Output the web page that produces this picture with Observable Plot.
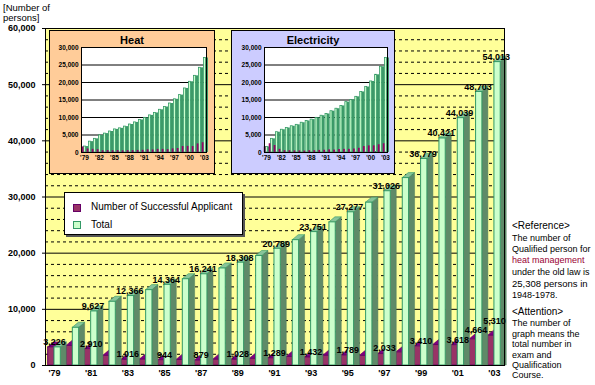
<!DOCTYPE html>
<html><head><meta charset="utf-8">
<script src="https://cdn.jsdelivr.net/npm/d3@7"></script>
<script src="https://cdn.jsdelivr.net/npm/@observablehq/plot@0.6"></script>
<style>
body{margin:0;background:#fff;font-family:Arial,"Liberation Sans",sans-serif;}
#wrap{position:relative;width:595px;height:385px;overflow:hidden;background:#fff;}
#wrap svg{position:absolute;left:0;top:0;overflow:visible;}
.panel{position:absolute;border:1px solid #000;}
.panel svg{position:absolute;left:0;top:0;}
.ptitle{position:absolute;left:0;right:0;top:3px;text-align:center;font:bold 11px Arial,"Liberation Sans",sans-serif;color:#000;}
.legend{position:absolute;left:64px;top:192px;width:177px;height:41px;background:#fff;border:1px solid #000;box-shadow:2px 2px 0 #555;font:10px Arial,"Liberation Sans",sans-serif;color:#000;}
.legend .sw{position:absolute;left:8px;width:6px;height:6px;}
.legend .lb{position:absolute;left:26px;white-space:nowrap;}
.note{position:absolute;left:512px;font:9px Arial,"Liberation Sans",sans-serif;color:#000;white-space:nowrap;}
.yl{position:absolute;left:3px;font:9.5px Arial,"Liberation Sans",sans-serif;color:#000;}
</style></head><body><div id="wrap"></div>
<script>
// ---- main chart data ----
const years = [1979,1980,1981,1982,1983,1984,1985,1986,1987,1988,1989,1990,1991,1992,1993,1994,1995,1996,1997,1998,1999,2000,2001,2002,2003];
const passed = [3226,3491,2910,1723,1016,1054,944,998,879,1039,1028,1192,1289,1530,1432,1737,1789,1716,2033,2343,3410,3642,3618,4664,5310];
const total = [3226,6717,9627,11350,12366,13420,14364,15362,16241,17280,18308,19500,20789,22319,23751,25488,27277,28993,31026,33369,36779,40421,44039,48703,54013];
const totalLabelYears = [1981,1983,1985,1987,1989,1991,1993,1995,1997,1999,2000,2001,2002,2003];
const passedLabelYears = [1979,1981,1983,1985,1987,1989,1991,1993,1995,1997,1999,2001];
const passedLabelYearsHigh = [2002];
const passedLabelYearsHigher = [2003];
const xTickYears = [1979,1981,1983,1985,1987,1989,1991,1993,1995,1997,1999,2001,2003];
const yTicks = [0,10000,20000,30000,40000,50000,60000];
const yMinor = [2000,4000,6000,8000,12000,14000,16000,18000,22000,24000,26000,28000,32000,34000,36000,38000,42000,44000,46000,48000,52000,54000,56000,58000];
const yMajorGrid = [10000,20000,30000,40000,50000];

// ---- inset data ----
const heatTotal = [1700,3100,3900,4900,5400,6000,6600,6900,7400,8000,8600,9300,9900,10600,11300,12200,13000,14000,15200,16400,18300,20200,21900,24200,27000];
const heatPassed = [1600,1000,900,800,500,550,500,550,480,540,530,600,640,780,730,890,890,820,1030,1140,1700,1750,1700,2450,2800];
const elecTotal = [1600,3900,5800,6500,7000,7500,7900,8500,9000,9400,9900,10500,11000,11800,12500,13300,14400,15000,15900,17300,18700,20300,22200,24500,27000];
const elecPassed = [1600,2500,2000,900,500,500,450,450,400,500,500,600,650,750,700,850,900,900,1000,1200,1700,1900,1900,2200,2500];
const insetTickYears = [1979,1982,1985,1988,1991,1994,1997,2000,2003];
const insetYTicks = [0,5000,10000,15000,20000,25000,30000];
const insetGrid = [5000,10000,15000,20000,25000];

const fmt = d3.format(",");
const yr = d => "'" + String(d).slice(2);
const wrap = document.getElementById("wrap");

// ---- main chart geometry ----
const W = 595, H = 385, mL = 45, mR = 91, mT = 28, mB = 20;
const xDom = [1978.509, 2003.55];
const pxYear = (W - mL - mR) / (xDom[1] - xDom[0]);
const pxVal = (H - mT - mB) / 60000;
const FW = 6.3 / pxYear;   // front face width (years)
const DX = 6 / pxYear;     // depth in x (years)
const DY = 5 / pxVal;      // depth in y (value units)

const rows = years.map((year, i) => ({year, passed: passed[i], total: total[i]}));

function sideFace(key, off) {
  const pts = [];
  rows.forEach(r => {
    const x = r.year + off;
    pts.push({id: r.year, x, y1: 0, y2: r[key]});
    pts.push({id: r.year, x: x + DX, y1: 0, y2: r[key] + DY});
  });
  return pts;
}
function topFace(key, a) {
  const pts = [];
  rows.forEach(r => {
    const x1 = r.year + a, x2 = x1 + FW, v = r[key];
    pts.push({id: r.year, x1, x2, y: v});
    pts.push({id: r.year, x1: x1 + DX, x2: x2 + DX, y: v + DY});
  });
  return pts;
}
const lblStyle = {fontWeight: "bold", fontSize: 9, fill: "#000"};
const passedText = (ys, dy) => Plot.text(rows.filter(r => ys.includes(r.year)), {x: "year", y: "passed", text: d => fmt(d.passed), dy, ...lblStyle});

const main = Plot.plot({
  width: W, height: H, marginLeft: mL, marginRight: mR, marginTop: mT, marginBottom: mB,
  x: {domain: xDom, ticks: xTickYears, tickFormat: yr, tickSize: 0, tickPadding: 4, label: null},
  y: {domain: [0, 60000], ticks: yTicks, tickFormat: fmt, tickSize: 3, tickPadding: 7, label: null},
  style: {fontFamily: "Arial, 'Liberation Sans', sans-serif", fontSize: "9px", fontWeight: "bold", background: "transparent", color: "#000"},
  marks: [
    Plot.frame({fill: "#ffff99"}),
    Plot.ruleY(yMinor, {stroke: "#000", strokeDasharray: "3,3", strokeWidth: 1}),
    Plot.ruleY(yMajorGrid, {stroke: "#000", strokeWidth: 1}),
    // purple bars
    Plot.area(sideFace("passed", 0), {x1: "x", y1: "y1", y2: "y2", z: "id", fill: "#660066"}),
    Plot.area(topFace("passed", -FW), {x1: "x1", x2: "x2", y1: "y", z: "id", fill: "#800080", stroke: "#660066", strokeWidth: 0.6}),
    Plot.rect(rows, {x1: d => d.year - FW, x2: d => d.year, y1: d => 0, y2: "passed", fill: "#993366", stroke: "#660066", strokeWidth: 1}),
    // green bars
    Plot.area(sideFace("total", FW), {x1: "x", y1: "y1", y2: "y2", z: "id", fill: "#5f8a68", stroke: "#4f7a5a", strokeWidth: 0.5}),
    Plot.area(topFace("total", 0), {x1: "x1", x2: "x2", y1: "y", z: "id", fill: "#88c49a", stroke: "#339966", strokeWidth: 0.6}),
    Plot.rect(rows, {x1: d => d.year, x2: d => d.year + FW, y1: d => 0, y2: "total", fill: "#ccffcc", stroke: "#339966", strokeWidth: 1}),
    Plot.ruleY([0], {stroke: "#000"}),
    Plot.ruleX([xDom[0]], {stroke: "#000"}),
    Plot.frame({stroke: "#000"}),
    // labels
    Plot.text(rows.filter(r => totalLabelYears.includes(r.year)), {x: d => d.year + 0.1, y: "total", text: d => fmt(d.total), dy: -5, ...lblStyle}),
    passedText(passedLabelYears, -5.5),
    passedText(passedLabelYearsHigh, -9),
    passedText(passedLabelYearsHigher, -15)
  ]
});
wrap.appendChild(main);

// ---- insets ----
function inset(title, bg, left, width, mLeft, mRight, dom, tot, pas) {
  const panel = document.createElement("div");
  panel.className = "panel";
  panel.style.left = left + "px"; panel.style.top = "30px";
  panel.style.width = width + "px"; panel.style.height = "142px";
  panel.style.background = bg;
  const data = years.map((year, i) => ({year, total: tot[i], passed: pas[i]}));
  const svg = Plot.plot({
    width, height: 142, marginLeft: mLeft, marginRight: mRight, marginTop: 16, marginBottom: 21,
    x: {domain: dom, ticks: insetTickYears, tickFormat: yr, tickSize: 0, tickPadding: 3, label: null},
    y: {domain: [0, 30000], ticks: insetYTicks, tickFormat: fmt, tickSize: 0, tickPadding: 3, label: null},
    style: {fontFamily: "Arial, 'Liberation Sans', sans-serif", fontSize: "6.5px", fontWeight: "bold", background: "transparent", color: "#000"},
    marks: [
      Plot.frame({fill: "#fff"}),
      Plot.ruleY(insetGrid, {stroke: "#000"}),
      Plot.rect(data, {x1: d => d.year + 0.3, x2: d => d.year + 0.8, y1: d => 0, y2: "total", fill: "#3d9a68"}),
      Plot.rect(data, {x1: d => d.year - 0.1, x2: d => d.year + 0.3, y1: d => 0, y2: "total", fill: "#ccffcc", stroke: "#339966", strokeWidth: 0.8}),
      Plot.rect(data, {x1: d => d.year - 0.45, x2: d => d.year - 0.1, y1: d => 0, y2: "passed", fill: "#990066"}),
      Plot.frame({stroke: "#000"})
    ]
  });
  panel.appendChild(svg);
  const t = document.createElement("div");
  t.className = "ptitle"; t.textContent = title;
  panel.appendChild(t);
  wrap.appendChild(panel);
}
inset("Heat", "#ffcc99", 49, 164, 31, 8, [1978.4, 2003.4], heatTotal, heatPassed);
inset("Electricity", "#ccccff", 231, 162, 32, 7, [1978.6, 2003.4], elecTotal, elecPassed);

// ---- legend ----
const lg = document.createElement("div");
lg.className = "legend";
lg.innerHTML =
  '<div class="sw" style="top:11px;background:#993366;border:1px solid #660066"></div>' +
  '<div class="lb" style="top:8px">Number of Successful Applicant</div>' +
  '<div class="sw" style="top:28px;background:#ccffcc;border:1px solid #339966"></div>' +
  '<div class="lb" style="top:26px">Total</div>';
wrap.appendChild(lg);

// ---- axis title ----
[["[Number of", 2], ["persons]", 12]].forEach(([s, t]) => {
  const d = document.createElement("div");
  d.className = "yl"; d.style.top = t + "px"; d.textContent = s; wrap.appendChild(d);
});

// ---- notes ----
const notes = [
  ["<Reference>", 220, "10px", "#000"],
  ["The number of", 233, null, "#000"],
  ["Qualified person for", 244, null, "#000"],
  ["heat management", 255, null, "#990033"],
  ["under the old law is", 267, null, "#000"],
  ["25,308 persons in", 278, "9.5px", "#000"],
  ["1948-1978.", 290, null, "#000"],
  ["<Attention>", 306, "10px", "#000"],
  ["The number of", 318, null, "#000"],
  ["graph means the", 329, null, "#000"],
  ["total number in", 339, null, "#000"],
  ["exam and", 350, null, "#000"],
  ["Qualification", 360, null, "#000"],
  ["Course.", 370, null, "#000"]
];
notes.forEach(([s, t, fs, c]) => {
  const d = document.createElement("div");
  d.className = "note"; d.style.top = t + "px"; d.style.color = c;
  if (fs) d.style.fontSize = fs;
  d.textContent = s; wrap.appendChild(d);
});
</script></body></html>
